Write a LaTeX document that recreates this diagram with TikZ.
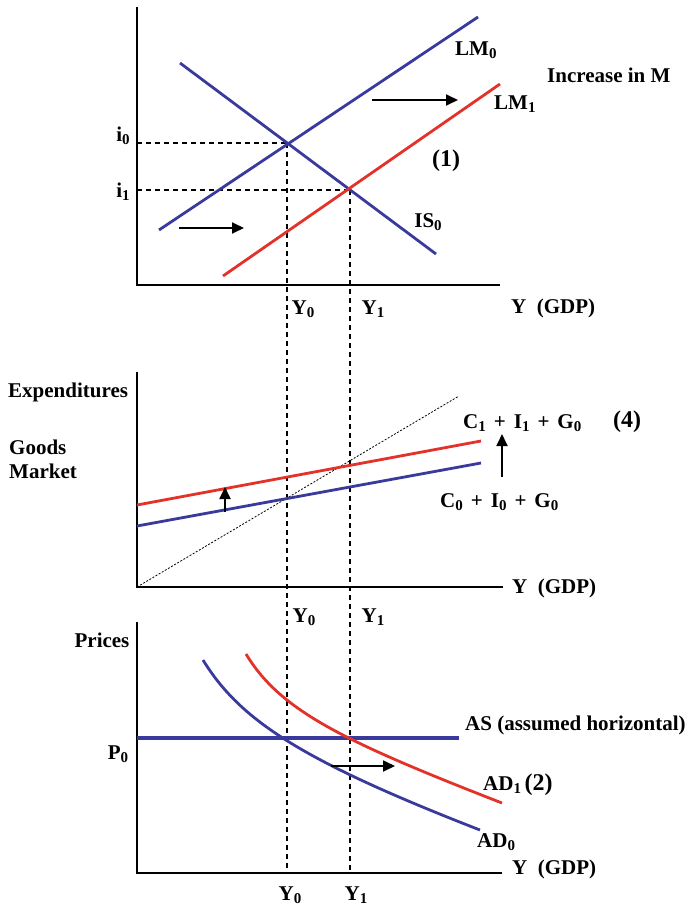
\documentclass[tikz,border=0pt]{standalone}
\usepackage{fontspec}
\setmainfont{Liberation Serif}
\usepackage{tikz}
\usetikzlibrary{arrows.meta,calc,positioning}
\definecolor{lmblue}{HTML}{3A3A9C}
\definecolor{lmred}{HTML}{E3322A}
\tikzset{axisline/.style={draw=black,line width=1.8pt},bluecurve/.style={draw=lmblue,line width=2.8pt},redcurve/.style={draw=lmred,line width=2.8pt},guideline/.style={draw=black,dash pattern=on 5pt off 4pt,line width=1.1pt},diagline/.style={draw=black,dash pattern=on 2pt off 1.6pt,line width=.8pt},shiftarrow/.style={draw=black,line width=1.8pt,-{Triangle[length=12pt,width=11pt]}},figlabel/.style={font=\fontsize{21}{23}\selectfont\bfseries,inner sep=0pt},stepmark/.style={font=\fontsize{24}{26}\selectfont\bfseries,inner sep=0pt}}
\newcommand\lowsub[1]{\raisebox{-.3ex}{\fontsize{15}{15}\selectfont #1}}
\newcommand\plusgap{\hspace{8pt}+\hspace{8pt}}

\begin{document}
\begin{tikzpicture}[x=1pt,y=-1pt]
\useasboundingbox (0,0) rectangle (688,909);
\coordinate (eq0) at (287,143);\coordinate (eq1) at (350,190);
\draw[guideline] (137,143)--(eq0);\draw[guideline] (137,190)--(eq1);
\draw[guideline] (eq0)--(287,873);\draw[guideline] (eq1)--(350,873);
\draw[axisline] (137,7)--(137,285)--(500,285);
\draw[bluecurve] (159,230)--(478,17);
\draw[bluecurve] (180,63)--(436,254);
\draw[redcurve] (223,276)--(500,84);
\coordinate (lmA) at (372,100);\coordinate (lmB) at (458,100);
\coordinate (lmC) at (179,228);\coordinate (lmD) at (244,228);
\draw[shiftarrow] (lmA)--(lmB);\draw[shiftarrow] (lmC)--(lmD);
\node[figlabel,anchor=west] (lm0) at (455,50) {LM\lowsub{0}};
\node[figlabel,anchor=west] (lm1) at (494,104) {LM\lowsub{1}};
\node[figlabel,anchor=west] (incm) at (547,75) {Increase in M};
\node[stepmark,anchor=west] (step1) at (432,161) {(1)};
\node[figlabel] (is0) at (428,222) {IS\lowsub{0}};
\node[figlabel] (i0) at (123,136) {i\lowsub{0}};
\node[figlabel] (i1) at (123,192) {i\lowsub{1}};
\node[figlabel] (ytop0) at (303,309) {Y\lowsub{0}};
\node[figlabel] (ytop1) at (373,309) {Y\lowsub{1}};
\node[figlabel,anchor=west] (gdptop) at (511,308) {Y\ \ (GDP)};
\draw[axisline] (137,372)--(137,587)--(503,587);
\draw[diagline] (137,587)--(459,396);
\draw[redcurve] (137,505)--(481,441);
\draw[bluecurve] (137,526)--(481,463);
\coordinate (exA) at (225,512);\coordinate (exB) at (225,487);
\coordinate (exC) at (502,477);\coordinate (exD) at (502,434);
\draw[shiftarrow] (exA)--(exB);\draw[shiftarrow] (exC)--(exD);
\node[figlabel,anchor=west] (expend) at (8,392) {Expenditures};
\node[figlabel,anchor=west] (goods) at (9,447) {Goods};
\node[figlabel,anchor=west] (market) at (9,471) {Market};
\node[figlabel,anchor=west] (cig1) at (463,423) {C\lowsub{1}\plusgap I\lowsub{1}\plusgap G\lowsub{0}};
\node[stepmark,anchor=west] (step4) at (613,422) {(4)};
\node[figlabel,anchor=west] (cig0) at (440,502) {C\lowsub{0}\plusgap I\lowsub{0}\plusgap G\lowsub{0}};
\node[figlabel,anchor=west] (gdpmid) at (512,588) {Y\ \ (GDP)};
\node[figlabel] (ymid0) at (304,617) {Y\lowsub{0}};
\node[figlabel] (ymid1) at (373,617) {Y\lowsub{1}};
\draw[axisline] (137,622)--(137,873)--(502,873);
\draw[bluecurve,line width=3.2pt] (137,738)--(459,738);
\draw[bluecurve] (203,660) .. controls (240,720) and (300,760) .. (480,830);
\draw[redcurve] (246,654) .. controls (280,710) and (340,740) .. (502,803);
\coordinate (adA) at (331,766);\coordinate (adB) at (395,766);
\draw[shiftarrow] (adA)--(adB);
\node[figlabel] (prices) at (102,640) {Prices};
\node[figlabel] (p0) at (118,754) {P\lowsub{0}};
\node[figlabel,anchor=west] (asline) at (465,725) {AS (assumed horizontal)};
\node[figlabel,anchor=west] (ad1) at (483,785) {AD\lowsub{1}\,{\fontsize{24}{26}\selectfont(2)}};
\node[figlabel,anchor=west] (ad0) at (477,842) {AD\lowsub{0}};
\node[figlabel,anchor=west] (gdpbot) at (512,869) {Y\ \ (GDP)};
\node[figlabel] (ybot0) at (290,895) {Y\lowsub{0}};
\node[figlabel] (ybot1) at (356,895) {Y\lowsub{1}};
\end{tikzpicture}
\end{document}
